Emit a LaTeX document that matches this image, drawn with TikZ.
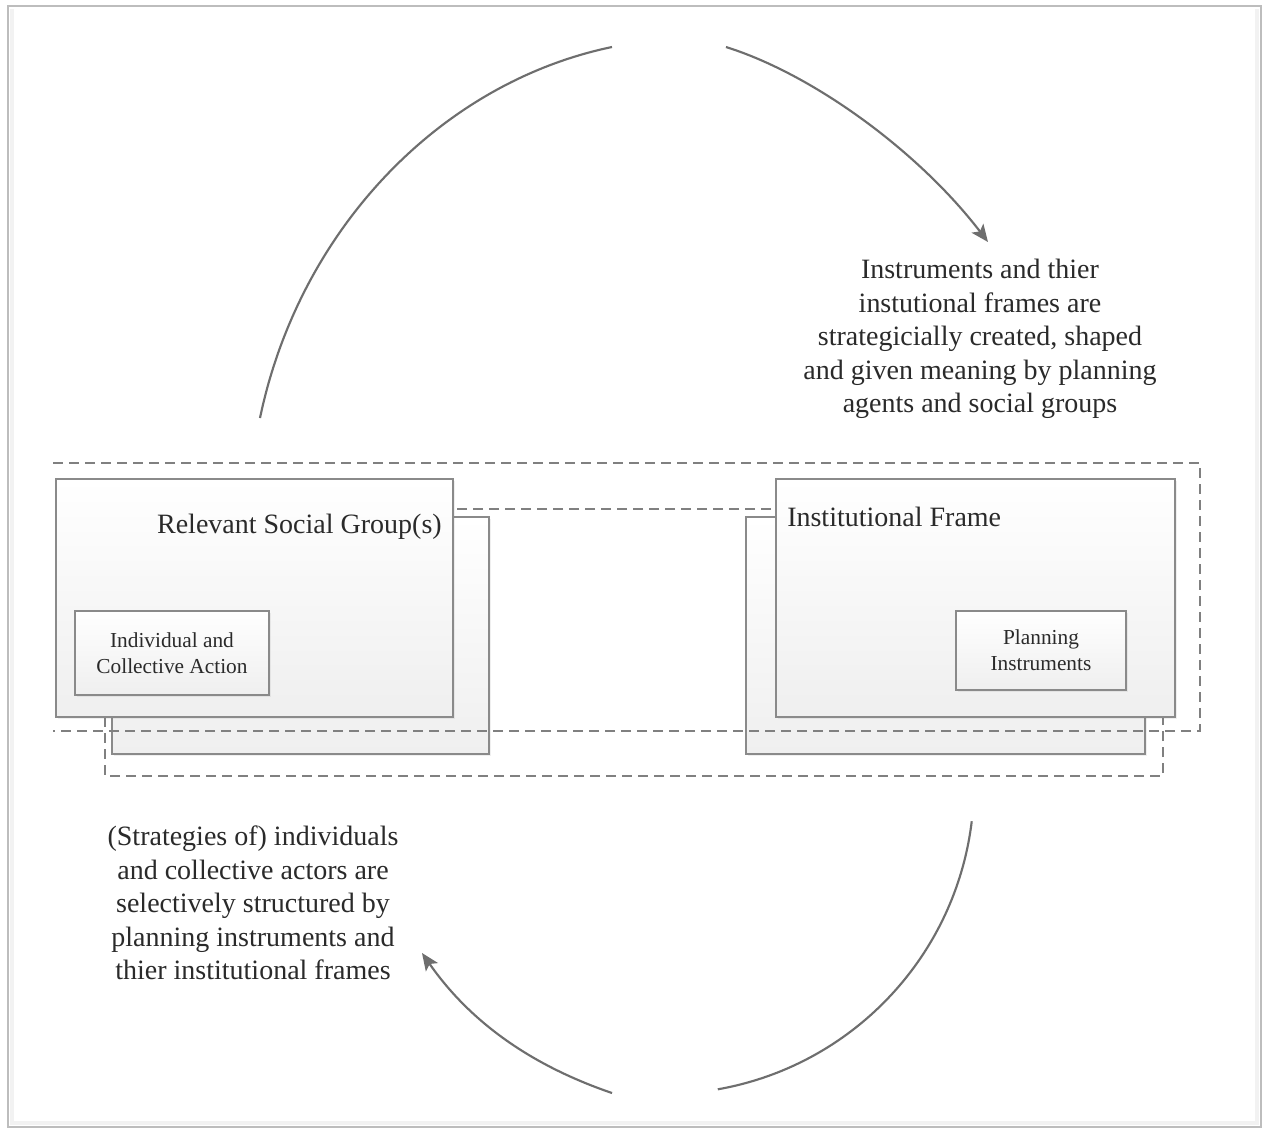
\documentclass[tikz,border=0pt]{standalone}
\usepackage{fontspec}
\setmainfont{Liberation Serif}
\usetikzlibrary{arrows.meta,fit,shadows}

\definecolor{framegray}{HTML}{BDBDBD}
\definecolor{linegray}{HTML}{8A8A8A}
\definecolor{dashgray}{HTML}{808080}
\definecolor{arcgray}{HTML}{6E6E6E}
\definecolor{inkgray}{HTML}{2A2A2A}
\definecolor{fillbottom}{HTML}{EFEFEF}

\tikzset{
  panel/.style={draw=linegray, line width=1.1pt, top color=white, bottom color=fillbottom,
    inner sep=0pt, drop shadow={shadow xshift=1.2pt, shadow yshift=-1.2pt, opacity=0.12}},
  boundary/.style={draw=dashgray, line width=1.1pt, dash pattern=on 7.5pt off 4.5pt},
  cyclearc/.style={draw=arcgray, line width=1.6pt},
  cyclehead/.style={cyclearc, -{Stealth[length=13pt,width=11pt,inset=3pt]}},
  heading/.style={text=inkgray, font=\fontsize{21}{25}\selectfont, inner sep=0pt},
  note/.style={text=inkgray, font=\fontsize{21}{25.2}\selectfont, align=center, inner sep=0pt},
  boxlabel/.style={text=inkgray, font=\fontsize{16}{19.5}\selectfont, align=center, inner sep=0pt},
}

\begin{document}
\begin{tikzpicture}[x=0.75pt, y=-0.75pt]
  % canvas and page frame
  \useasboundingbox (0,0) rectangle (1265,1129);
  \fill[white] (0,0) rectangle (1265,1129);
  \draw[black!5, line width=3pt] (12,9) -- (12,1123) -- (1257,1123) -- (1257,9);
  \draw[framegray, line width=1.5pt] (8,6) rectangle (1261,1127);

  % outer (lower) dashed boundary
  \draw[boundary] (105,509) rectangle (1163,776);

  % back layers of both stacks
  \node[panel, fit={(112,517) (489,754)}] (groupBack) {};
  \node[panel, fit={(746,517) (1145,754)}] (frameBack) {};

  % upper dashed boundary, open on its left side
  \draw[boundary] (53,463) -- (1200,463) -- (1200,731) -- (53,731);

  % front layers
  \node[panel, fit={(56,479) (453,717)}] (groupFront) {};
  \node[panel, fit={(776,479) (1175,717)}] (frameFront) {};

  % inner boxes
  \node[panel, fit={(75,611) (269,695)}] (actionBox) {};
  \node[panel, fit={(956,611) (1126,690)}] (instrBox) {};

  % labels
  \node[heading, anchor=base east] (groupTitle) at (442,533) {Relevant Social Group(s)};
  \node[heading, anchor=base west] (frameTitle) at (787,526) {Institutional Frame};
  \node[boxlabel] (actionText) at (actionBox.center) {Individual and\\Collective Action};
  \node[boxlabel] (instrText) at (instrBox.center) {Planning\\Instruments};

  \node[note] (topNote) at (980,339) {Instruments and thier\\instutional frames are\\strategicially created, shaped\\and given meaning by planning\\agents and social groups};
  \node[note] (bottomNote) at (253,903) {(Strategies of) individuals\\and collective actors are\\selectively structured by\\planning instruments and\\thier institutional frames};

  % end points of the two cycle arcs
  \coordinate (upStart) at (260,418);
  \coordinate (upGapL) at (612,47);
  \coordinate (upGapR) at (726,47);
  \coordinate (upTip) at (988,242);
  \coordinate (lowGapL) at (612,1093);
  \coordinate (lowTip) at (422,953);

  % upper cycle arc
  \draw[cyclearc] (upStart) .. controls (299,231) and (439,83) .. (upGapL);
  \draw[cyclehead] (upGapR) .. controls (815,75) and (920,153) .. (upTip);

  % lower cycle arc
  \draw[cyclearc] (664,784) ++(6.9:310) arc[start angle=6.9, end angle=80, radius=310];
  \draw[cyclehead] (lowGapL) .. controls (527,1064) and (468,1019) .. (lowTip);
\end{tikzpicture}
\end{document}
